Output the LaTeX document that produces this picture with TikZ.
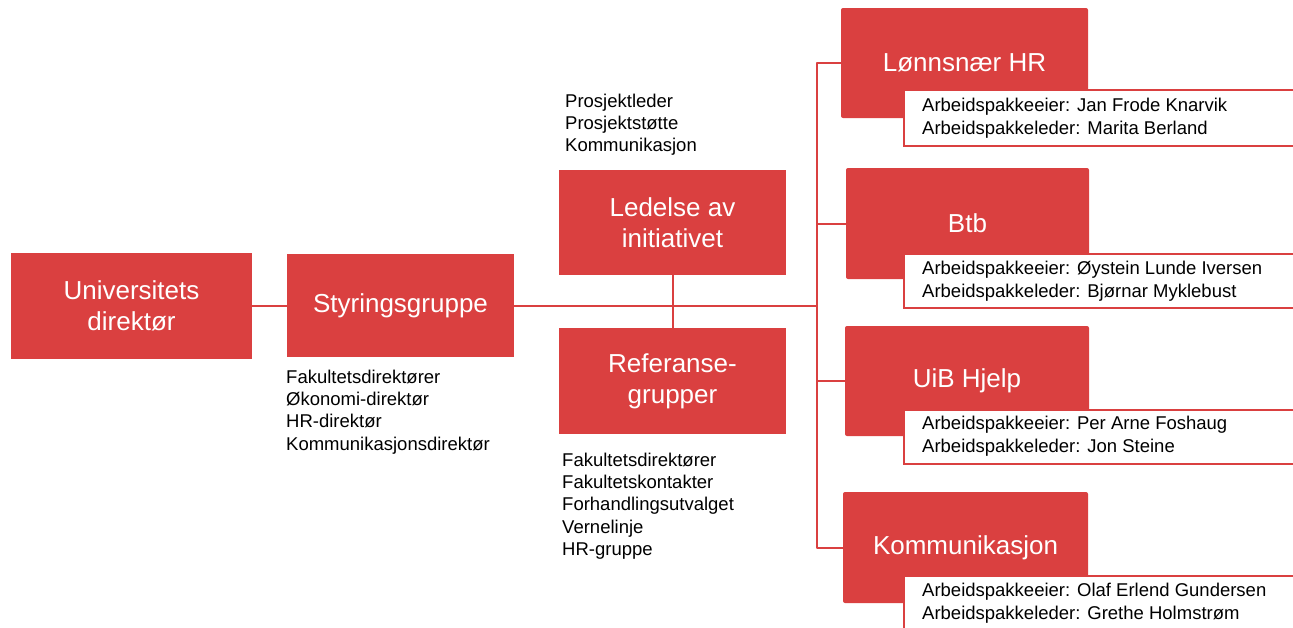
\documentclass[tikz,border=0pt]{standalone}
\usepackage{fontspec}
\setmainfont{Liberation Sans}
\definecolor{boxred}{RGB}{218,64,64}
\begin{document}
\begin{tikzpicture}[x=1pt,y=-1pt,
  redbox/.style={draw=none,fill=boxred,text=white,inner sep=0pt,align=center,
    font=\fontsize{26}{31}\selectfont},
  rbox/.style={redbox,rounded corners=2pt},
  infobox/.style={draw=boxred,line width=1.5pt,fill=white,inner sep=0pt,anchor=north west},
  infotext/.style={inner sep=0pt,anchor=west,align=left,font=\fontsize{18.5}{22.5}\selectfont},
  listtext/.style={inner sep=0pt,anchor=north west,align=left,font=\fontsize{18.5}{22.3}\selectfont},
  conn/.style={draw=boxred,line width=2pt}]
\useasboundingbox (0,0) rectangle (1293,627);
\clip (0,0) rectangle (1293,627);
% left boxes
\node[redbox,minimum width=241pt,minimum height=106pt] (univ) at (131.5,305.5) {Universitets\\direktør};
\node[redbox,minimum width=227pt,minimum height=103pt] (styr) at (400.5,305.5) {Styringsgruppe};
\node[redbox,minimum width=227pt,minimum height=105pt] (led) at (672.5,222.5) {Ledelse av\\initiativet};
\node[redbox,minimum width=227pt,minimum height=106pt] (ref) at (672.5,381) {Referanse-\\grupper};
% lists
\node[listtext] (l1) at (565,93.5) {Prosjektleder\\Prosjektstøtte\\Kommunikasjon};
\node[listtext] (l2) at (286,369.5) {Fakultetsdirektører\\Økonomi-direktør\\HR-direktør\\Kommunikasjonsdirektør};
\node[listtext] (l3) at (562,452.5) {Fakultetsdirektører\\Fakultetskontakter\\Forhandlingsutvalget\\Vernelinje\\HR-gruppe};
% connectors
\coordinate (bus) at (817,305.5);
\draw[conn] (univ) -- (styr);
\draw[conn] (styr) -- (bus);
\draw[conn] (led) -- (ref);
% right boxes
\node[rbox,minimum width=247pt,minimum height=110pt] (lonn) at (964.5,63) {Lønnsnær HR};
\node[rbox,minimum width=243pt,minimum height=111pt] (btb) at (967.5,223.5) {Btb};
\node[rbox,minimum width=244pt,minimum height=110pt] (uib) at (967,381) {UiB Hjelp};
\node[rbox,minimum width=245pt,minimum height=111pt] (komm) at (965.5,547.5) {Kommunikasjon};
\draw[conn,line join=round] (lonn.west) -- (lonn.west -| bus) -- (komm.west -| bus) -- (komm.west);
\draw[conn] (btb.west -| bus) -- (btb.west);
\draw[conn] (uib.west -| bus) -- (uib.west);
% info boxes
\node[infobox,minimum width=400pt,minimum height=56pt] (i1) at (903,89) {};
\node[infobox,minimum width=400pt,minimum height=54pt] (i2) at (903,253) {};
\node[infobox,minimum width=400pt,minimum height=54pt] (i3) at (903,409) {};
\node[infobox,minimum width=400pt,minimum height=60pt] (i4) at (903,575) {};
\node[infotext] (t1) at (922,118) {Arbeidspakkeeier: Jan Frode Knarvik\\Arbeidspakkeleder: Marita Berland};
\node[infotext] (t2) at (922,281) {Arbeidspakkeeier: Øystein Lunde Iversen\\Arbeidspakkeleder: Bjørnar Myklebust};
\node[infotext] (t3) at (922,436) {Arbeidspakkeeier: Per Arne Foshaug\\Arbeidspakkeleder: Jon Steine};
\node[infotext] (t4) at (922,603) {Arbeidspakkeeier: Olaf Erlend Gundersen\\Arbeidspakkeleder: Grethe Holmstrøm};
\end{tikzpicture}
\end{document}
